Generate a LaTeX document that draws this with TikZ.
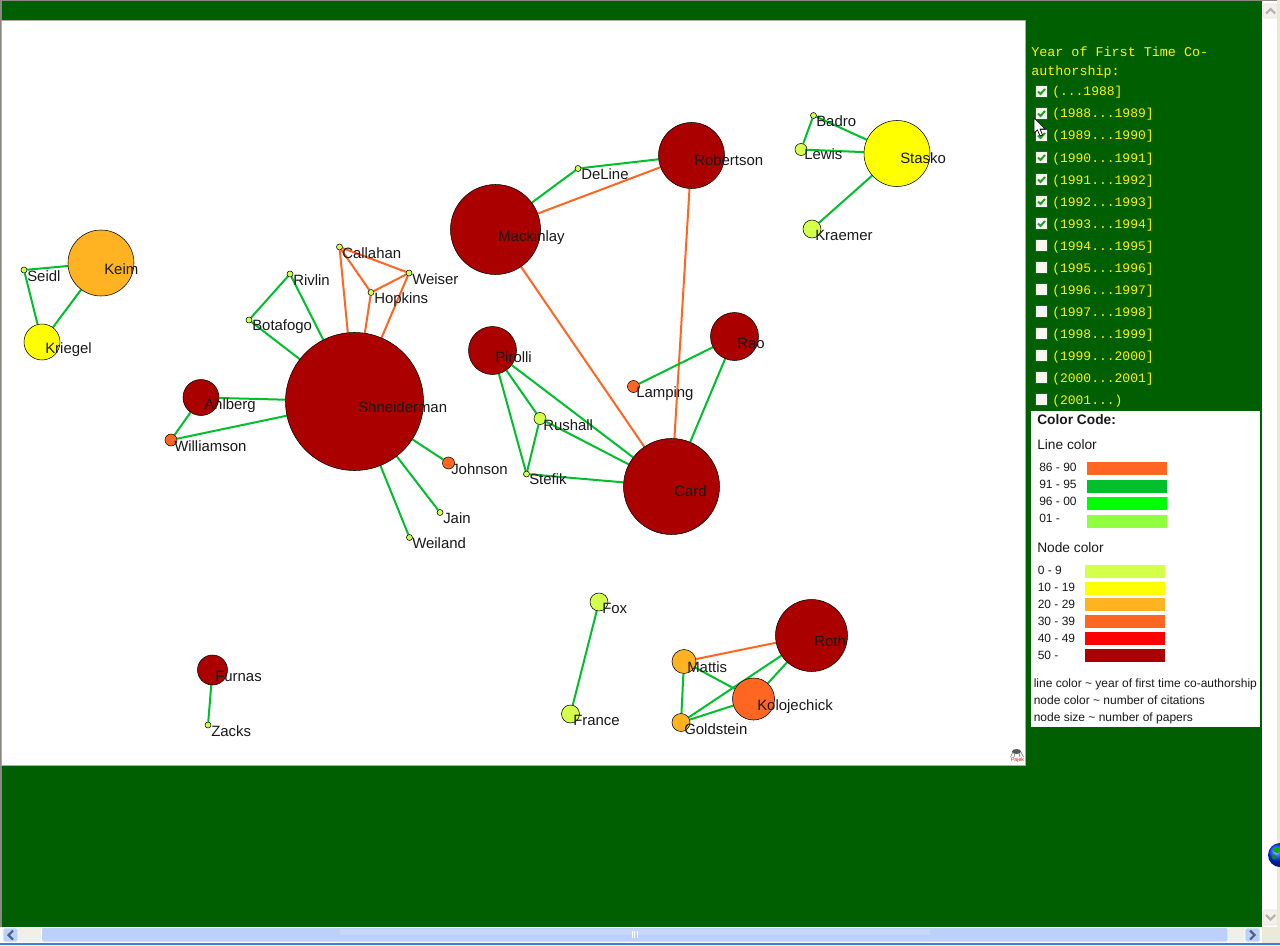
\documentclass[tikz,border=0pt]{standalone}
\usepackage{fontspec}
\setmainfont{Liberation Sans}
\newfontfamily\yearFont{Liberation Mono}
\usetikzlibrary{backgrounds}
\definecolor{pageColor}{HTML}{005F00}
\definecolor{frameColor}{HTML}{8A8880}
\definecolor{oldEdgeColor}{HTML}{FF6622}
\definecolor{midEdgeColor}{HTML}{00BF2C}
\definecolor{newEdgeColor}{HTML}{00FF00}
\definecolor{lastEdgeColor}{HTML}{90FF40}
\definecolor{fewColor}{HTML}{D4FF4A}
\definecolor{someColor}{HTML}{FFFF00}
\definecolor{manyColor}{HTML}{FFB322}
\definecolor{lotsColor}{HTML}{FF6622}
\definecolor{hotColor}{HTML}{FF0000}
\definecolor{topColor}{HTML}{AA0000}
\definecolor{thumbColor}{HTML}{BDD0F7}
\definecolor{trackColor}{HTML}{F1F0E8}
\definecolor{chromeColor}{HTML}{ECE9D8}
\definecolor{buttonColor}{HTML}{4D6185}
\definecolor{tickColor}{HTML}{1C5180}
\definecolor{checkColor}{HTML}{21A121}
\definecolor{taskColor}{HTML}{3F7FD8}
\tikzset{
  author/.style={circle, draw=black, line width=0.4pt, inner sep=0pt, minimum size=#1*1.5pt},
  nameText/.style={anchor=base west, inner sep=0pt, yshift=-3.75pt, font=\fontsize{11.2}{11}\selectfont, text=black!90},
  oldEdge/.style={oldEdgeColor, line width=1.5pt},
  midEdge/.style={midEdgeColor, line width=1.5pt},
  yearText/.style={anchor=base west, inner sep=0pt, text=yellow, font=\yearFont\fontsize{9.75}{10}\selectfont},
  headText/.style={anchor=base west, inner sep=0pt, text=yellow, font=\yearFont\fontsize{10.05}{10}\selectfont},
  tickBox/.style={draw=tickColor, line width=0.6pt, fill=chromeColor!40, inner sep=0pt, minimum size=9pt},
  keyText/.style={anchor=base west, inner sep=0pt, font=\fontsize{9}{9}\selectfont, text=black!90},
  keyHead/.style={anchor=base west, inner sep=0pt, font=\fontsize{10.3}{10}\selectfont, text=black!90},
  swatch/.style={draw=none, inner sep=0pt, minimum width=60pt, minimum height=9.75pt, fill=#1},
  scrollButton/.style={draw=white, line width=0.6pt, rounded corners=1pt, fill=thumbColor},
}
\begin{document}
\begin{tikzpicture}[x=0.75pt, y=-0.75pt]
  \useasboundingbox (0,0) rectangle (1280,945);

  % people
  \node[author=33, fill=manyColor] (keim) at (101,263) {};
  \node[author=3, fill=fewColor] (seidl) at (24,270) {};
  \node[author=18, fill=someColor] (kriegel) at (42,342) {};
  \node[author=69, fill=topColor] (shneiderman) at (354.5,401.5) {};
  \node[author=18, fill=topColor] (ahlberg) at (201,397.5) {};
  \node[author=6, fill=lotsColor] (williamson) at (171,440) {};
  \node[author=3, fill=fewColor] (botafogo) at (249,320) {};
  \node[author=3, fill=fewColor] (rivlin) at (290,274) {};
  \node[author=3, fill=fewColor] (callahan) at (339.5,247) {};
  \node[author=3, fill=fewColor] (weiser) at (409,273) {};
  \node[author=3, fill=fewColor] (hopkins) at (371,292.5) {};
  \node[author=6, fill=lotsColor] (johnson) at (448.5,463) {};
  \node[author=3, fill=fewColor] (jain) at (440,512.5) {};
  \node[author=3, fill=fewColor] (weiland) at (409.5,537.5) {};
  \node[author=45, fill=topColor] (mackinlay) at (495.5,229.5) {};
  \node[author=33, fill=topColor] (robertson) at (691.5,155.5) {};
  \node[author=3, fill=fewColor] (deline) at (578,168.5) {};
  \node[author=33, fill=someColor] (stasko) at (897,153.5) {};
  \node[author=3, fill=fewColor] (badro) at (813.5,115.5) {};
  \node[author=6, fill=fewColor] (lewis) at (801,149.5) {};
  \node[author=9, fill=fewColor] (kraemer) at (812,229) {};
  \node[author=24, fill=topColor] (pirolli) at (492.5,350.5) {};
  \node[author=24, fill=topColor] (rao) at (734.5,336.5) {};
  \node[author=6, fill=lotsColor] (lamping) at (633.5,386.5) {};
  \node[author=6, fill=fewColor] (rushall) at (540,418.5) {};
  \node[author=3, fill=fewColor] (stefik) at (526.5,474) {};
  \node[author=48, fill=topColor] (card) at (671.5,486.5) {};
  \node[author=9, fill=fewColor] (fox) at (599,602) {};
  \node[author=9, fill=fewColor] (france) at (570.5,714) {};
  \node[author=36, fill=topColor] (roth) at (811.5,635.5) {};
  \node[author=12, fill=manyColor] (mattis) at (684,661.5) {};
  \node[author=21, fill=lotsColor] (kolojechick) at (753.5,699) {};
  \node[author=9, fill=manyColor] (goldstein) at (681,722.5) {};
  \node[author=15, fill=topColor] (furnas) at (212.5,670) {};
  \node[author=3, fill=fewColor] (zacks) at (208,725) {};

  \begin{pgfonlayer}{background}
    \fill[pageColor] (0,0) rectangle (1280,945);
    % browser frame
    \fill[frameColor] (0,0) rectangle (1280,1.5);
    \fill[frameColor] (0,0) rectangle (1.5,927);
    \fill[white] (1261.5,1.5) rectangle (1277,927);
    \fill[chromeColor] (1277,0) rectangle (1280,945);
    \draw[frameColor!70, fill=white, line width=0.75pt] (1.5,20.5) rectangle (1025,765.5);
    \fill[white] (1031,411) rectangle (1260,727);
    % edges
    \draw[midEdge] (seidl) -- (keim);
    \draw[midEdge] (seidl) -- (kriegel);
    \draw[midEdge] (keim) -- (kriegel);
    \draw[midEdge] (botafogo) -- (rivlin);
    \draw[midEdge] (botafogo) -- (shneiderman);
    \draw[midEdge] (rivlin) -- (shneiderman);
    \draw[midEdge] (ahlberg) -- (shneiderman);
    \draw[midEdge] (ahlberg) -- (williamson);
    \draw[midEdge] (williamson) -- (shneiderman);
    \draw[midEdge] (johnson) -- (shneiderman);
    \draw[midEdge] (jain) -- (shneiderman);
    \draw[midEdge] (weiland) -- (shneiderman);
    \draw[oldEdge] (callahan) -- (shneiderman);
    \draw[oldEdge] (hopkins) -- (shneiderman);
    \draw[oldEdge] (weiser) -- (shneiderman);
    \draw[oldEdge] (callahan) -- (hopkins);
    \draw[oldEdge] (callahan) -- (weiser);
    \draw[oldEdge] (hopkins) -- (weiser);
    \draw[midEdge] (mackinlay) -- (deline);
    \draw[midEdge] (deline) -- (robertson);
    \draw[oldEdge] (mackinlay) -- (robertson);
    \draw[oldEdge] (mackinlay) -- (card);
    \draw[oldEdge] (robertson) -- (card);
    \draw[midEdge] (rao) -- (lamping);
    \draw[midEdge] (rao) -- (card);
    \draw[midEdge] (pirolli) -- (rushall);
    \draw[midEdge] (pirolli) -- (stefik);
    \draw[midEdge] (pirolli) -- (card);
    \draw[midEdge] (rushall) -- (stefik);
    \draw[midEdge] (rushall) -- (card);
    \draw[midEdge] (stefik) -- (card);
    \draw[midEdge] (stasko) -- (badro);
    \draw[midEdge] (stasko) -- (lewis);
    \draw[midEdge] (stasko) -- (kraemer);
    \draw[midEdge] (badro) -- (lewis);
    \draw[midEdge] (furnas) -- (zacks);
    \draw[midEdge] (fox) -- (france);
    \draw[oldEdge] (mattis) -- (roth);
    \draw[midEdge] (mattis) -- (kolojechick);
    \draw[midEdge] (mattis) -- (goldstein);
    \draw[midEdge] (goldstein) -- (kolojechick);
    \draw[midEdge] (goldstein) -- (roth);
    \draw[midEdge] (kolojechick) -- (roth);
  \end{pgfonlayer}

  % names
  \node[nameText] (keimText) at (104,269) {Keim};
  \node[nameText] (seidlText) at (27,276) {Seidl};
  \node[nameText] (kriegelText) at (45,348) {Kriegel};
  \node[nameText] (shneidermanText) at (358,407) {Shneiderman};
  \node[nameText] (ahlbergText) at (204,404) {Ahlberg};
  \node[nameText] (williamsonText) at (174,446) {Williamson};
  \node[nameText] (botafogoText) at (252,325) {Botafogo};
  \node[nameText] (rivlinText) at (293,280) {Rivlin};
  \node[nameText] (callahanText) at (342,253) {Callahan};
  \node[nameText] (weiserText) at (412,279) {Weiser};
  \node[nameText] (hopkinsText) at (374,298) {Hopkins};
  \node[nameText] (johnsonText) at (451,469) {Johnson};
  \node[nameText] (jainText) at (443,518) {Jain};
  \node[nameText] (weilandText) at (412,543) {Weiland};
  \node[nameText] (mackinlayText) at (498,236) {Mackinlay};
  \node[nameText] (robertsonText) at (694,161) {Robertson};
  \node[nameText] (delineText) at (581,174) {DeLine};
  \node[nameText] (staskoText) at (900,159) {Stasko};
  \node[nameText] (badroText) at (816,122) {Badro};
  \node[nameText] (lewisText) at (804,155) {Lewis};
  \node[nameText] (kraemerText) at (815,235) {Kraemer};
  \node[nameText] (pirolliText) at (495,357) {Pirolli};
  \node[nameText] (raoText) at (737,343) {Rao};
  \node[nameText] (lampingText) at (636,392) {Lamping};
  \node[nameText] (rushallText) at (543,425) {Rushall};
  \node[nameText] (stefikText) at (529,479) {Stefik};
  \node[nameText] (cardText) at (674,491) {Card};
  \node[nameText] (foxText) at (602,608) {Fox};
  \node[nameText] (franceText) at (573,720) {France};
  \node[nameText] (rothText) at (814,641) {Roth};
  \node[nameText] (mattisText) at (687,667) {Mattis};
  \node[nameText] (kolojechickText) at (757,705) {Kolojechick};
  \node[nameText] (goldsteinText) at (684,729) {Goldstein};
  \node[nameText] (furnasText) at (215,676) {Furnas};
  \node[nameText] (zacksText) at (211,731) {Zacks};

  % year filter
  \node[headText] (yearHeadA) at (1031,57) {Year of First Time Co-};
  \node[headText] (yearHeadB) at (1031,76) {authorship:};
  \foreach \i in {0,...,14} {
    \node[tickBox] (tick\i) at (1041.5,{91.5+22*\i}) {};
  }
  \foreach \i in {0,...,6} {
    \draw[checkColor, line width=1.5pt] ([shift={(-3.5,0)}]tick\i.center) -- ++(2.5,2.5) -- ++(4.5,-5);
  }
  \node[yearText] (yearFirst) at (1052,96) {(...1988]};
  \foreach \i [evaluate=\i as \yearFrom using int(1988+\i), evaluate=\i as \yearTo using int(1989+\i)] in {0,...,12} {
    \node[yearText] (year\i) at (1052,{118+22*\i}) {(\yearFrom...\yearTo]};
  }
  \node[yearText] (yearLast) at (1052,404) {(2001...)};

  % colour code
  \node[keyHead, font=\bfseries\fontsize{10.3}{10}\selectfont] (keyTitle) at (1037,424.5) {Color Code:};
  \node[keyHead] (lineHead) at (1037,449.5) {Line color};
  \node[keyText] (lineA) at (1039,471.5) {86 - 90};
  \node[keyText] (lineB) at (1039,488.5) {91 - 95};
  \node[keyText] (lineC) at (1039,505.5) {96 - 00};
  \node[keyText] (lineD) at (1039,522.5) {01 -};
  \node[swatch=oldEdgeColor, anchor=north west] (lineSwatchA) at (1087,462) {};
  \node[swatch=midEdgeColor, anchor=north west] (lineSwatchB) at (1087,480) {};
  \node[swatch=newEdgeColor, anchor=north west] (lineSwatchC) at (1087,497) {};
  \node[swatch=lastEdgeColor, anchor=north west] (lineSwatchD) at (1087,515) {};
  \node[keyHead] (nodeHead) at (1037,552.5) {Node color};
  \node[keyText] (nodeA) at (1037.5,574.5) {0 - 9};
  \node[keyText] (nodeB) at (1037.5,591.5) {10 - 19};
  \node[keyText] (nodeC) at (1037.5,608.5) {20 - 29};
  \node[keyText] (nodeD) at (1037.5,625.5) {30 - 39};
  \node[keyText] (nodeE) at (1037.5,642.5) {40 - 49};
  \node[keyText] (nodeF) at (1037.5,659.5) {50 -};
  \node[swatch=fewColor, anchor=north west] (nodeSwatchA) at (1085,565) {};
  \node[swatch=someColor, anchor=north west] (nodeSwatchB) at (1085,582) {};
  \node[swatch=manyColor, anchor=north west] (nodeSwatchC) at (1085,598) {};
  \node[swatch=lotsColor, anchor=north west] (nodeSwatchD) at (1085,615) {};
  \node[swatch=hotColor, anchor=north west] (nodeSwatchE) at (1085,632) {};
  \node[swatch=topColor, anchor=north west] (nodeSwatchF) at (1085,649) {};
  \node[keyText] (noteA) at (1033.5,687.5) {line color \~{} year of first time co-authorship};
  \node[keyText] (noteB) at (1033.5,704.5) {node color \~{} number of citations};
  \node[keyText] (noteC) at (1033.5,721.5) {node size \~{} number of papers};

  % mouse pointer
  \draw[black, fill=white, line width=0.5pt] (1034,118) -- (1034,133) -- (1037.5,130) -- (1040,136) -- (1042.5,135) -- (1040,129) -- (1045,129) -- cycle;

  % logo in the corner
  \fill[black!65] (1016.5,751.5) ellipse (4.5 and 2.5);
  \draw[black!60, line width=0.4pt] (1013,752) -- (1010.5,757) (1015,753) -- (1014,757) (1019,753) -- (1020,757) (1021,752) -- (1023.5,757);
  \node[anchor=center, inner sep=0pt, text=red, font=\fontsize{3.9}{4}\selectfont] (logoText) at (1017.5,760) {Pajek};

  % globe
  \shade[ball color=blue!80!cyan] (1280,855) circle (12);
  \fill[green!70!black] (1277,850) ellipse (4 and 3);
  \fill[green!60!black] (1274,857) ellipse (2 and 2.5);

  % scroll bars
  \fill[white] (0,927) rectangle (1262,943);
  \fill[chromeColor] (1262,927) rectangle (1280,945);
  \fill[taskColor] (0,943) rectangle (1280,945);
  \fill[trackColor] (18,928) rectangle (41,942);
  \fill[trackColor] (1228,928) rectangle (1245,942);
  \draw[scrollButton] (41.5,927.5) rectangle (1228,942);
  \fill[thumbColor!85!white] (340,929) rectangle (930,935);
  \draw[white, line width=0.75pt] (632,931) -- (632,938) (634.5,931) -- (634.5,938) (637,931) -- (637,938);
  \draw[scrollButton] (3,928) rectangle (18,942);
  \draw[scrollButton] (1245,928) rectangle (1260,942);
  \draw[buttonColor, line width=1.6pt] (13,930.5) -- (8.5,935) -- (13,939.5);
  \draw[buttonColor, line width=1.6pt] (1250,930.5) -- (1254.5,935) -- (1250,939.5);
  \draw[black!12, fill=chromeColor!60, rounded corners=1pt] (1263.5,4) rectangle (1277,18);
  \draw[black!30, line width=1.6pt] (1266,13.5) -- (1270.5,9) -- (1275,13.5);
  \draw[black!12, fill=chromeColor!60, rounded corners=1pt] (1263.5,910) rectangle (1277,925);
  \draw[black!30, line width=1.6pt] (1266,915) -- (1270.5,919.5) -- (1275,915);
\end{tikzpicture}
\end{document}
